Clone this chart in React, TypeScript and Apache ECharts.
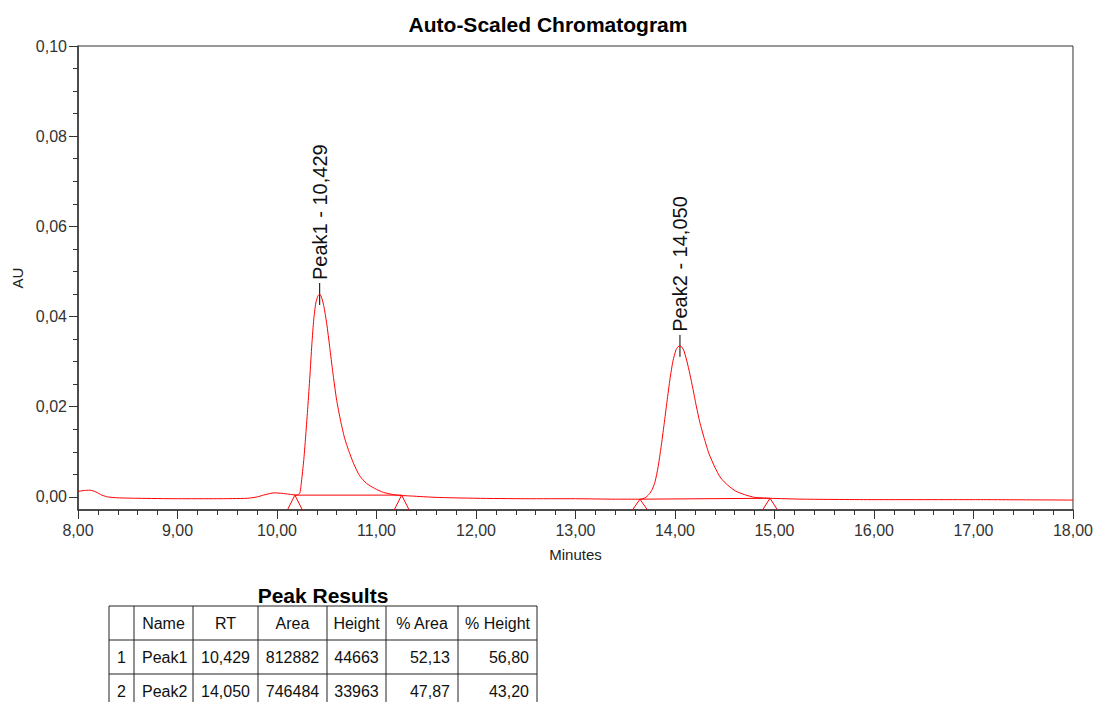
import React, { useEffect, useRef } from "react";
import * as echarts from "echarts";

// ---- Data ----
const signalTime = [
  8.0, 8.05, 8.12, 8.18, 8.24, 8.3, 8.4, 8.6, 9.0, 9.4, 9.7, 9.8, 9.88, 9.97, 10.05, 10.12, 10.2,
  10.23, 10.25, 10.27, 10.29, 10.31, 10.33, 10.35, 10.37, 10.39, 10.41, 10.429,
  10.45, 10.47, 10.5, 10.53, 10.56, 10.6, 10.64, 10.68, 10.72, 10.77, 10.83, 10.9, 10.98, 11.07, 11.2,
  11.35, 11.6, 12.0, 12.5, 13.0, 13.4, 13.65,
  13.7, 13.74, 13.77, 13.8, 13.83, 13.86, 13.89, 13.92, 13.95, 13.98, 14.01, 14.03, 14.05,
  14.07, 14.09, 14.12, 14.15, 14.18, 14.21, 14.25, 14.29, 14.34, 14.4, 14.46, 14.53, 14.61, 14.7,
  14.8, 14.95, 15.3, 16.0, 17.0, 18.0,
];
const signalAU = [
  0.0012, 0.0014, 0.0015, 0.0011, 0.0004, 0.0, -0.0002, -0.0003, -0.0004, -0.0004, -0.0003, 0.0,
  0.0005, 0.0009, 0.0008, 0.0006, 0.0004,
  0.0009, 0.0042, 0.0084, 0.014, 0.02, 0.0266, 0.0337, 0.0395, 0.043, 0.0445, 0.045,
  0.0441, 0.0424, 0.0384, 0.0332, 0.0278, 0.0214, 0.0168, 0.013, 0.0103, 0.0074, 0.0047, 0.003,
  0.0019, 0.001, 0.0004,
  0.0002, -0.0001, -0.0003, -0.0004, -0.0004, -0.0005, -0.0005,
  -0.0002, 0.0006, 0.0016, 0.0034, 0.0066, 0.011, 0.016, 0.0212, 0.0262, 0.0302, 0.0326, 0.0333,
  0.0335,
  0.0332, 0.0324, 0.0301, 0.0272, 0.024, 0.0206, 0.0165, 0.0133, 0.0097, 0.0066, 0.0042, 0.0026,
  0.0013, 0.0005,
  -0.0001, -0.0003, -0.0005, -0.0006, -0.0006, -0.0007,
];

const peakNames = ["Peak1", "Peak2"];
const peakRT = [10.429, 14.05];
const peakApexAU = [0.045, 0.0335];
const peakArea = [812882, 746484];
const peakHeight = [44663, 33963];
const peakPctArea = [52.13, 47.87];
const peakPctHeight = [56.8, 43.2];

const baselineStart = [10.18, 13.648];
const baselineStartAU = [0.0004, -0.0005];
const baselineEnd = [11.253, 14.955];
const baselineEndAU = [0.0004, -0.0003];

const yMajorTicks = [0, 0.02, 0.04, 0.06, 0.08, 0.1];
const yMinorTicks = [
  0.005, 0.01, 0.015, 0.025, 0.03, 0.035, 0.045, 0.05, 0.055, 0.065, 0.07, 0.075, 0.085, 0.09, 0.095,
];
const tableHeaders = ["", "Name", "RT", "Area", "Height", "% Area", "% Height"];

// ---- Layout constants ----
const Y_MIN = -0.0029;
const Y_MAX = 0.1;
const FONT = "'Liberation Sans', Arial, sans-serif";
const colEdges = [109, 134, 193, 258, 327, 386, 458, 537];
const rowEdges = [606, 640, 674, 708];
const colAlign = ["center", "left", "center", "center", "center", "right", "right"];

const comma = (v: number, d: number) => v.toFixed(d).replace(".", ",");

function buildTable(): any[] {
  const els: any[] = [];
  const lineStyle = { stroke: "#222", lineWidth: 1 };
  rowEdges.forEach((y) => {
    els.push({ type: "line", shape: { x1: colEdges[0], y1: y, x2: colEdges[colEdges.length - 1], y2: y }, style: lineStyle });
  });
  colEdges.forEach((x) => {
    els.push({ type: "line", shape: { x1: x, y1: rowEdges[0], x2: x, y2: rowEdges[rowEdges.length - 1] }, style: lineStyle });
  });
  const rows: string[][] = [tableHeaders];
  peakNames.forEach((n, i) => {
    rows.push([
      String(i + 1),
      n,
      comma(peakRT[i], 3),
      String(peakArea[i]),
      String(peakHeight[i]),
      comma(peakPctArea[i], 2),
      comma(peakPctHeight[i], 2),
    ]);
  });
  rows.forEach((row, r) => {
    const cy = (rowEdges[r] + rowEdges[r + 1]) / 2;
    row.forEach((txt, c) => {
      const align = r === 0 ? "center" : colAlign[c];
      const x0 = colEdges[c];
      const x1 = colEdges[c + 1];
      const x = align === "center" ? (x0 + x1) / 2 : align === "left" ? x0 + 8 : x1 - 8;
      els.push({
        type: "text",
        x,
        y: cy,
        style: { text: txt, fill: "#111", font: `16px ${FONT}`, align, verticalAlign: "middle" },
      });
    });
  });
  els.push({
    type: "text",
    x: (colEdges[0] + colEdges[colEdges.length - 1]) / 2,
    y: 595,
    style: { text: "Peak Results", fill: "#000", font: `bold 21px ${FONT}`, align: "center", verticalAlign: "middle" },
  });
  return els;
}

export default function App() {
  const ref = useRef<HTMLDivElement>(null);
  useEffect(() => {
    if (!ref.current) return;
    const chart = echarts.init(ref.current, null, { renderer: "svg" });
    const axisColor = "#333";
    const labelStyle = { color: "#333", fontSize: 16, fontFamily: FONT };
    const option: any = {
      animation: false,
      title: {
        text: "Auto-Scaled Chromatogram",
        left: "center",
        top: 9,
        textStyle: { fontSize: 21, fontWeight: "bold", color: "#000", fontFamily: FONT },
      },
      grid: {
        left: 78,
        right: 23,
        top: 46,
        bottom: 192,
        show: true,
        borderColor: axisColor,
        borderWidth: 1,
        backgroundColor: "transparent",
      },
      xAxis: {
        type: "value",
        min: 8,
        max: 18,
        interval: 1,
        name: "Minutes",
        nameLocation: "middle",
        nameGap: 37,
        nameTextStyle: { color: "#222", fontSize: 15, fontFamily: FONT },
        axisLine: { show: true, onZero: false, lineStyle: { color: axisColor, width: 1.5 } },
        axisTick: { show: true, length: 9, lineStyle: { color: axisColor } },
        minorTick: { show: true, splitNumber: 5, length: 5, lineStyle: { color: axisColor } },
        axisLabel: { ...labelStyle, margin: 12, formatter: (v: number) => comma(v, 2) },
        splitLine: { show: false },
      },
      yAxis: [
        {
          type: "value",
          min: Y_MIN,
          max: Y_MAX,
          name: "AU",
          nameLocation: "middle",
          nameGap: 52,
          nameTextStyle: { color: "#222", fontSize: 15, fontFamily: FONT },
          axisLine: { show: true, onZero: false, lineStyle: { color: axisColor, width: 1.5 } },
          axisTick: { show: true, length: 9, customValues: yMajorTicks, lineStyle: { color: axisColor } },
          axisLabel: { ...labelStyle, margin: 11, customValues: yMajorTicks, formatter: (v: number) => comma(v, 2) },
          splitLine: { show: false },
        },
        {
          type: "value",
          min: Y_MIN,
          max: Y_MAX,
          position: "left",
          axisLine: { show: false, onZero: false },
          axisTick: { show: true, length: 5, customValues: yMinorTicks, lineStyle: { color: axisColor } },
          axisLabel: { show: false },
          splitLine: { show: false },
        },
      ],
      series: [
        {
          type: "line",
          data: signalTime.map((t, i) => [t, signalAU[i]]),
          showSymbol: false,
          smooth: 0.2,
          lineStyle: { color: "#ff0000", width: 1 },
          itemStyle: { color: "#ff0000" },
          silent: true,
        },
        ...peakNames.map((_, i) => ({
          type: "line",
          data: [
            [baselineStart[i], baselineStartAU[i]],
            [baselineEnd[i], baselineEndAU[i]],
          ],
          showSymbol: false,
          lineStyle: { color: "#ff0000", width: 1 },
          silent: true,
        })),
        {
          type: "custom",
          clip: false,
          silent: true,
          data: [
            ...baselineStart.map((t, i) => [t, baselineStartAU[i]]),
            ...baselineEnd.map((t, i) => [t, baselineEndAU[i]]),
          ],
          renderItem: (params: any, api: any) => {
            const p = api.coord([api.value(0), api.value(1)]);
            const bottom = api.coord([api.value(0), Y_MIN])[1];
            return {
              type: "polyline",
              shape: { points: [[p[0] - 7.5, bottom], [p[0], p[1]], [p[0] + 7.5, bottom]] },
              style: { stroke: "#ff0000", lineWidth: 1, fill: null },
            };
          },
        },
        {
          type: "custom",
          clip: false,
          silent: true,
          data: peakRT.map((t, i) => [t, peakApexAU[i]]),
          renderItem: (params: any, api: any) => {
            const i = params.dataIndex;
            const p = api.coord([api.value(0), api.value(1)]);
            return {
              type: "group",
              children: [
                {
                  type: "line",
                  shape: { x1: p[0], y1: p[1] + 11, x2: p[0], y2: p[1] - 11 },
                  style: { stroke: "#000", lineWidth: 1 },
                },
                {
                  type: "text",
                  x: p[0],
                  y: p[1] - 14,
                  rotation: Math.PI / 2,
                  style: {
                    text: `${peakNames[i]} - ${comma(peakRT[i], 3)}`,
                    fill: "#111",
                    font: `20px ${FONT}`,
                    align: "left",
                    verticalAlign: "middle",
                  },
                },
              ],
            };
          },
        },
      ],
      graphic: buildTable(),
    };
    chart.setOption(option);
    return () => chart.dispose();
  }, []);
  return (
    <div
      ref={ref}
      style={{ position: "absolute", left: 0, top: 0, width: 1096, height: 702, background: "#fff" }}
    />
  );
}
